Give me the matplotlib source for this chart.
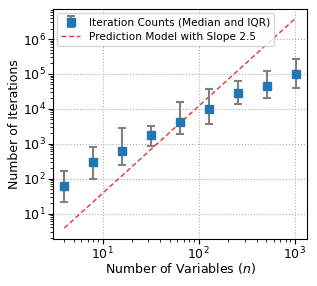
import matplotlib
matplotlib.use("Agg")
import matplotlib.pyplot as plt
import numpy as np

n_vars = [4, 8, 16, 32, 64, 128, 256, 512, 1024]
median_iters = [62, 296, 628, 1780, 4070, 10200, 28000, 44600, 98000]
q1_iters = [21.6, 100, 253, 870, 1960, 3800, 13800, 20500, 40700]
q3_iters = [167, 810, 2750, 3300, 16000, 36700, 64000, 123000, 277000]
pred_slope = 2.5
pred_coef = 0.12
x_major_ticks = [1e1, 1e2, 1e3]
y_major_ticks = [1e1, 1e2, 1e3, 1e4, 1e5, 1e6]

fig = plt.figure(figsize=(3.17, 2.86), dpi=100)
ax = fig.add_axes([0.168, 0.165, 0.800, 0.802])

x = np.array(n_vars, dtype=float)
med = np.array(median_iters)
yerr = np.vstack([med - np.array(q1_iters), np.array(q3_iters) - med])

eb = ax.errorbar(x, med, yerr=yerr, fmt='s', color='#1f77b4', markersize=5.5,
                 ecolor='grey', elinewidth=1.5, capsize=3.2, capthick=1.5,
                 label='Iteration Counts (Median and IQR)', zorder=3)
ln, = ax.plot(x, pred_coef * x ** pred_slope, '--', color='#e03535', lw=1.0,
              dashes=(3.5, 2), label='Prediction Model with Slope 2.5', zorder=2)

ax.set_xscale('log')
ax.set_yscale('log')
ax.set_xticks(x_major_ticks)
ax.set_yticks(y_major_ticks)
ax.set_xlim(10 ** 0.487, 10 ** 3.125)
ax.set_ylim(10 ** 0.275, 10 ** 6.85)
ax.grid(True, which='major', linestyle=':', color='#b0b0b0', lw=0.8)
ax.tick_params(labelsize=9, pad=2)
ax.tick_params(axis='x', pad=1.5)
ax.set_xlabel('Number of Variables ($n$)', fontsize=9, labelpad=-1)
ax.set_ylabel('Number of Iterations', fontsize=9, labelpad=1)
ax.legend([eb, ln], ['Iteration Counts (Median and IQR)', 'Prediction Model with Slope 2.5'],
          loc='upper left', fontsize=7.6, framealpha=0.8, handlelength=1.8,
          borderaxespad=0.35, labelspacing=0.45)

fig.savefig('out.png', dpi=100)
